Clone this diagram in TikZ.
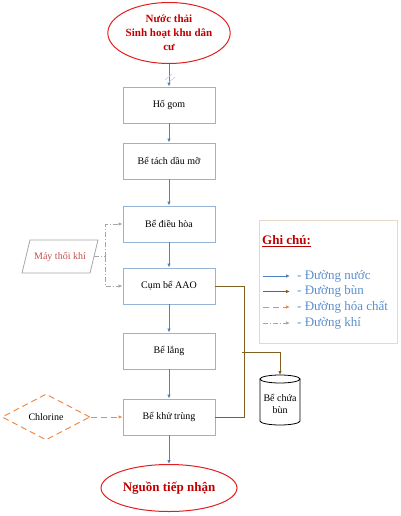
\documentclass[tikz,border=0pt]{standalone}
\usepackage{fontspec}
\setmainfont{Liberation Serif}
\usetikzlibrary{shapes.geometric,arrows.meta,calc}
\definecolor{flowblue}{HTML}{4F81BD}
\definecolor{boxblue}{HTML}{95B3D7}
\definecolor{sludgec}{HTML}{7F6020}
\definecolor{chemc}{HTML}{F08A4B}
\definecolor{airc}{HTML}{A6A6A6}
\definecolor{darkred}{HTML}{C00000}
\definecolor{ellred}{HTML}{E02020}
\definecolor{mtkred}{HTML}{C0504D}
\definecolor{legtxt}{HTML}{5B8FC9}
\definecolor{legbox}{HTML}{E8D8C8}
\tikzset{
  proc/.style={draw=boxblue, line width=0.9pt, minimum width=92pt, minimum height=36pt, inner sep=0pt, font=\fontsize{10}{12}\selectfont},
  term/.style={ellipse, draw=ellred, line width=1pt, inner sep=0pt, text=darkred, font=\fontsize{11}{14}\selectfont\bfseries, align=center},
  water/.style={draw=flowblue, line width=0.8pt, -{Latex[length=4pt,width=3.5pt]}},
  sludge/.style={draw=sludgec, line width=1pt},
  chem/.style={draw=chemc, line width=1pt, dash pattern=on 6pt off 4pt},
  air/.style={draw=airc, line width=0.8pt, dash pattern=on 5pt off 2pt on 1pt off 2pt},
  legtext/.style={anchor=west, text=legtxt, font=\fontsize{13}{15}\selectfont, inner sep=0pt}
}
\begin{document}
\begin{tikzpicture}[x=1pt,y=-1pt]
\useasboundingbox (0,0) rectangle (400,516);
% terminals
\node[term, minimum width=104pt, minimum height=61pt] (src) at (169,33) {Nước thải\\Sinh hoạt khu dân\\cư};
\node[term, minimum width=136pt, minimum height=47pt, font=\fontsize{13}{15}\selectfont\bfseries] (dst) at (169,488) {Nguồn tiếp nhận};
% process boxes
\node[proc] (hg) at (169,105) {Hố gom};
\node[proc] (btd) at (169,161) {Bể tách dầu mỡ};
\node[proc] (bdh) at (169,224) {Bể điều hòa};
\node[proc] (aao) at (169,286) {Cụm bể AAO};
\node[proc] (bl) at (169,351) {Bể lắng};
\node[proc] (bkt) at (169,417) {Bể khử trùng};
% water flow
\draw[water] (src.south) -- (hg.north);
\draw[draw=boxblue!60, line width=0.6pt] (165,80) -- (172,74) (168,83) -- (175,77);
\draw[water] (hg.south) -- (btd.north);
\draw[water] (btd.south) -- (bdh.north);
\draw[water] (bdh.south) -- (aao.north);
\draw[water] (aao.south) -- (bl.north);
\draw[water] (bl.south) -- (bkt.north);
\draw[water] (bkt.south) -- (dst.north);
% blower
\draw[draw=airc, line width=0.8pt] (30,240) -- (98,240) -- (90,273) -- (22,273) -- cycle;
\node[text=mtkred, font=\fontsize{10}{12}\selectfont] (mtk) at (60,256.5) {Máy thổi khí};
\coordinate (mtkR) at (94,256.5);
\coordinate (aj) at (105,256.5);
\draw[air] (mtkR) -- (aj);
\draw[air, -{Latex[length=4pt,width=3.5pt]}] (aj) |- (bdh.west);
\draw[air, -{Latex[length=4pt,width=3.5pt]}] (aj) |- (aao.west);
% chlorine
\node[diamond, draw=chemc, line width=1pt, dash pattern=on 6pt off 4pt, minimum width=88pt, minimum height=46pt, inner sep=0pt, font=\fontsize{10}{12}\selectfont] (chl) at (46,417) {Chlorine};
\draw[chem, -{Latex[length=4pt,width=3.5pt]}] (chl.east) -- (bkt.west);
% sludge
\coordinate (sb) at (242,352);
\coordinate (cylTop) at (280,375);
\draw[sludge] (aao.east) -- ++(29,0) |- (bkt.east);
\draw[sludge, -{Latex[length=4pt,width=3.5pt]}] (sb) -| (cylTop);
% cylinder
\draw[line width=0.8pt, fill=white] (260,379) -- (260,421) arc[start angle=180, end angle=360, x radius=20pt, y radius=4pt] -- (300,379);
\draw[line width=0.8pt] (280,379) ellipse[x radius=20pt, y radius=4pt];
\node[font=\fontsize{10}{12}\selectfont, align=center] (cyl) at (280,404) {Bể chứa\\bùn};
% legend
\node[draw=legbox, line width=1pt, minimum width=138pt, minimum height=123pt, inner sep=0pt] (leg) at (328,281.5) {};
\node[anchor=west, inner sep=0pt, text=darkred, font=\fontsize{13}{15}\selectfont\bfseries] (gc) at (262,241) {\underline{Ghi chú:}};
\coordinate (l1a) at (263,276); \coordinate (l1b) at (290,276);
\coordinate (l2a) at (263,291.5); \coordinate (l2b) at (290,291.5);
\coordinate (l3a) at (263,307); \coordinate (l3b) at (290,307);
\coordinate (l4a) at (263,323); \coordinate (l4b) at (290,323);
\draw[water] (l1a) -- (l1b);
\draw[sludge, -{Latex[length=4pt,width=3.5pt]}] (l2a) -- (l2b);
\draw[chem, -{Latex[length=4pt,width=3.5pt]}] (l3a) -- (l3b);
\draw[air, -{Latex[length=4pt,width=3.5pt]}] (l4a) -- (l4b);
\node[legtext] (t1) at (297,276) {- Đường nước};
\node[legtext] (t2) at (297,291.5) {- Đường bùn};
\node[legtext] (t3) at (297,307) {- Đường hóa chất};
\node[legtext] (t4) at (297,323) {- Đường khí};
\end{tikzpicture}
\end{document}
